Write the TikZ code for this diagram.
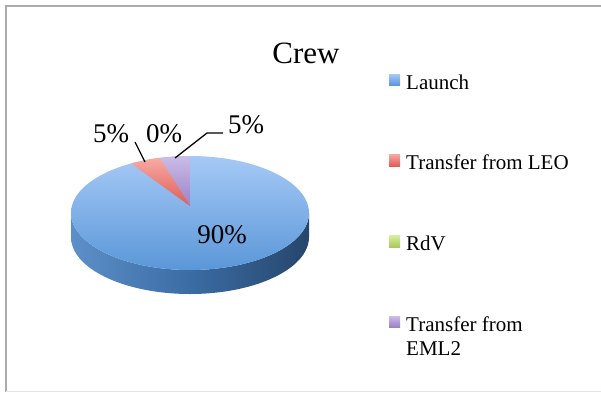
\documentclass[tikz,border=0pt]{standalone}
\usepackage{fontspec}
\setmainfont{Liberation Serif}
\begin{document}
\begin{tikzpicture}[x=1pt,y=1pt,
  lbl/.style={anchor=base,inner sep=0pt,font=\fontsize{27}{30}\selectfont},
  legtxt/.style={anchor=base west,inner sep=0pt,font=\fontsize{21}{24}\selectfont},
  legsq/.style={minimum size=11pt,inner sep=0pt,anchor=south west},
  leader/.style={draw=black,line width=1.3pt}]
\definecolor{blueA}{HTML}{A6C9F6}
\definecolor{blueB}{HTML}{5A97D8}
\definecolor{sideL}{HTML}{5D8FC8}
\definecolor{sideM}{HTML}{3B6CA4}
\definecolor{sideR}{HTML}{26466C}
\definecolor{redA}{HTML}{F6ABA4}
\definecolor{redB}{HTML}{E05C54}
\definecolor{purA}{HTML}{CBBCE8}
\definecolor{purB}{HTML}{9B82C7}
\definecolor{grnA}{HTML}{D9EFA0}
\definecolor{grnB}{HTML}{A8C95A}
\useasboundingbox (0,0) rectangle (601,392);
% frame
\draw[gray!65,line width=1.6pt] (6,0) -- (6,386) -- (605,386);
\draw[gray!20,line width=1pt] (6,1) -- (605,1);
% title
\node[anchor=base,inner sep=0pt,font=\fontsize{31}{34}\selectfont] (title) at (306,329) {Crew};
% side wall
\shade[left color=sideL,right color=sideR,middle color=sideM]
  (71,179) -- (71,155) arc[start angle=180,end angle=360,x radius=119,y radius=57]
  -- (309,179) arc[start angle=360,end angle=180,x radius=119,y radius=57] -- cycle;
% top face
\shade[top color=blueA,bottom color=blueB] (190,179) ellipse[x radius=119,y radius=57];
\coordinate (apex) at (190,186);
\coordinate (ptop) at (190,236);
\coordinate (pmid) at (160,234.2);
\coordinate (pred) at (131,228.5);
\shade[top color=purA,bottom color=purB]
  (apex) -- (ptop) arc[start angle=90,end angle=104.6,x radius=119,y radius=57] -- cycle;
\shade[top color=redA,bottom color=redB]
  (apex) -- (pmid) arc[start angle=104.6,end angle=119.7,x radius=119,y radius=57] -- cycle;
% labels
\node[lbl] (l90) at (222,149) {90\%};
\node[lbl] (lleo) at (111,250) {5\%};
\node[lbl] (lrdv) at (164,250) {0\%};
\node[lbl,anchor=base west] (leml) at (228,259) {5\%};
% leaders
\coordinate (redpt) at (145,230);
\coordinate (redend) at (135,250);
\coordinate (purpt) at (175,234);
\coordinate (purbend) at (207,259);
\coordinate (purend) at (223,259);
\draw[leader] (redpt) -- (redend);
\draw[leader] (purpt) -- (purbend) -- (purend);
% legend
\shade[top color=blueA,bottom color=blueB] (389,307) rectangle (400,318);
\node[legsq] (sq1) at (389,307) {};
\node[legtxt] (t1) at (406,303) {Launch};
\shade[top color=redA,bottom color=redB] (389,226) rectangle (400,238);
\node[legsq] (sq2) at (389,226) {};
\node[legtxt] (t2) at (406,223) {Transfer from LEO};
\shade[top color=grnA,bottom color=grnB] (389,145) rectangle (400,157);
\node[legsq] (sq3) at (389,145) {};
\node[legtxt] (t3) at (406,142) {RdV};
\shade[top color=purA,bottom color=purB] (389,65) rectangle (400,76);
\node[legsq] (sq4) at (389,65) {};
\node[legtxt] (t4) at (406,61) {Transfer from};
\node[legtxt] (t5) at (406,37) {EML2};
\end{tikzpicture}
\end{document}
